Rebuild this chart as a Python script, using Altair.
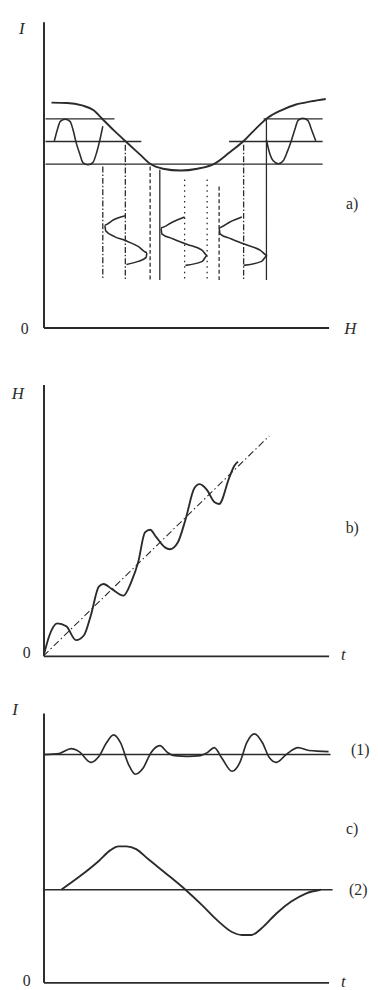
import altair as alt
import pandas as pd

INK = "#2b2b2b"

# ---------------- panel a : I versus H ----------------
a_curve_H = [2.8, 8.3, 13.5, 17.6, 20.4, 24.6, 29.8, 33.9, 37.4, 41.9, 48.1, 54.0, 59.9,
             65.1, 70.6, 74.7, 78.9, 83.4, 88.6, 93.8, 99.0]
a_curve_I = [73.5, 73.4, 72.6, 71.0, 68.4, 64.5, 60.0, 56.5, 53.5, 51.9, 51.3, 51.9, 53.5,
             57.1, 61.3, 65.2, 68.7, 71.0, 72.9, 73.9, 74.7]

a_seg_I = [68.2, 68.2, 60.8, 60.8, 53.4]
a_seg_H0 = [0.7, 77.2, 0.7, 65.1, 0.7]
a_seg_H1 = [24.9, 97.9, 34.3, 97.9, 97.9]

a_vert_H = [20.8, 28.7, 37.4, 40.8, 49.5, 57.4, 61.6, 70.2, 78.2]
a_vert_top = [52.6, 59.7, 52.6, 51.6, 48.4, 48.4, 46.1, 59.7, 68.1]
a_vert_bottom = [15.5, 15.5, 15.5, 15.5, 15.5, 15.5, 15.5, 15.5, 15.5]
a_vert_style = ["dashdot", "dashdot", "dashed", "solid", "dotted", "dotted", "dashed",
                "dashdot", "solid"]

# input modulation drawn as I(t) to the left and right
a_left_H = [3.8, 4.8, 5.9, 7.6, 9.3, 10.4, 11.4, 12.8, 13.8, 15.6, 17.3, 18.7, 19.7, 20.8]
a_left_I = [61.0, 64.5, 67.4, 68.1, 67.4, 64.5, 60.6, 56.5, 53.9, 53.2, 53.9, 57.4, 61.0, 65.8]
a_right_H = [78.2, 79.2, 80.6, 82.4, 84.1, 85.5, 86.9, 88.2, 89.3, 91.0, 92.7, 94.1, 95.5]
a_right_I = [61.3, 57.4, 54.5, 53.5, 54.5, 57.4, 61.0, 64.8, 67.7, 68.4, 67.7, 64.5, 61.0]

# field modulation H(t) drawn downwards
a_w1_H = [28.7, 24.6, 21.5, 21.8, 24.9, 28.7, 33.2, 36.3, 36.0, 33.2, 29.1]
a_w1_I = [36.5, 35.2, 33.5, 31.6, 29.7, 28.4, 26.5, 24.5, 22.9, 21.6, 20.6]
a_w2_H = [49.5, 45.3, 41.2, 41.5, 45.3, 50.5, 55.7, 57.4, 55.7, 49.8]
a_w2_I = [36.1, 34.5, 32.6, 30.6, 29.0, 27.1, 25.2, 23.5, 21.6, 20.3]
a_w3_H = [69.6, 65.4, 61.6, 61.9, 65.7, 70.9, 76.1, 78.5, 76.5, 70.2]
a_w3_I = [36.1, 34.5, 32.6, 30.6, 29.0, 27.1, 25.2, 23.5, 21.6, 20.3]

a_lab_text = ["I", "0", "H", "a)"]
a_lab_x = [-7.6, -6.6, 107.6, 108.3]
a_lab_y = [97.7, -0.6, -0.6, 40.3]
a_lab_italic = [True, False, True, False]

# ---------------- panel b : H versus t ----------------
b_mean_t = [0.0, 79.2]
b_mean_H = [0.0, 81.1]
b_curve_t = [0.3, 2.1, 4.8, 8.0, 11.4, 14.2, 16.6, 19.4, 21.1, 23.9, 28.0, 30.8, 33.2, 35.6,
             37.4, 39.4, 42.6, 44.3, 47.1, 49.8, 52.9, 54.7, 57.4, 59.9, 61.6, 65.1, 66.8, 68.2]
b_curve_H = [1.1, 7.6, 12.0, 10.9, 5.8, 7.6, 14.9, 25.5, 26.5, 24.7, 22.2, 27.3, 34.5, 45.5,
             46.5, 44.0, 40.0, 39.3, 41.8, 50.2, 61.8, 63.3, 61.1, 56.7, 56.0, 65.5, 69.8, 71.6]
b_lab_text = ["H", "0", "t", "b)"]
b_lab_x = [-9.0, -5.9, 105.2, 108.3]
b_lab_y = [96.7, 1.1, 0.4, 47.3]
b_lab_italic = [True, False, True, False]

# ---------------- panel c : I versus t ----------------
c_base_I = [84.6, 34.4]
c_base_t0 = [0.0, 0.0]
c_base_t1 = [100.7, 101.4]
c_w1_t = [0.3, 5.5, 9.7, 12.5, 16.6, 19.4, 22.1, 24.6, 27.0, 29.8, 32.2, 34.9, 37.7, 40.8, 43.6,
          46.0, 50.5, 55.0, 57.4, 59.9, 62.6, 66.1, 68.9, 71.3, 74.0, 76.8, 79.2, 81.7, 85.1,
          89.3, 93.1, 100.0]
c_w1_I = [84.6, 85.0, 86.8, 85.7, 81.7, 83.9, 89.0, 91.9, 89.0, 81.0, 77.3, 79.5, 85.3, 87.9,
          85.3, 84.2, 83.9, 84.2, 85.3, 87.2, 83.2, 78.4, 81.7, 89.0, 92.3, 89.0, 83.5, 81.7,
          84.6, 87.2, 86.1, 85.7]
c_w2_t = [6.2, 12.5, 19.4, 23.5, 26.3, 29.1, 32.5, 36.7, 43.6, 49.8, 55.7, 60.9, 66.1, 69.6,
          73.0, 76.5, 81.7, 86.9, 92.0, 97.2]
c_w2_I = [34.4, 39.2, 45.1, 49.1, 50.5, 50.5, 49.5, 45.8, 39.9, 34.4, 28.6, 23.1, 18.7, 17.6,
          17.6, 20.1, 25.6, 30.0, 33.0, 34.4]
c_lab_text = ["I", "0", "t", "(1)", "c)", "(2)"]
c_lab_x = [-10.0, -5.9, 105.2, 111.1, 108.3, 110.4]
c_lab_y = [101.1, 0.4, 0.0, 86.1, 57.1, 34.1]
c_lab_italic = [True, False, True, False, False, False]

W = 289
DASHES = {"solid": [1, 0], "dashdot": [6, 2, 1.5, 2], "dashed": [4, 2.5], "dotted": [1.5, 4]}


def ax():
    return alt.Axis(domain=True, domainColor=INK, domainWidth=2, ticks=False, labels=False,
                    grid=False, title=None)


def sx():
    return alt.Scale(domain=[0, 100], nice=False, zero=False)


def X(f="x"):
    return alt.X(f"{f}:Q", scale=sx(), axis=ax())


def Y(f="y"):
    return alt.Y(f"{f}:Q", scale=sx(), axis=ax())


def curves(series, width=1.7, dash=None):
    rows = []
    for name, xs, ys in series:
        for k, (x, y) in enumerate(zip(xs, ys)):
            rows.append({"s": name, "k": k, "x": x, "y": y})
    kw = {"color": INK, "strokeWidth": width, "interpolate": "monotone"}
    if dash:
        kw["strokeDash"] = dash
    return alt.Chart(pd.DataFrame(rows)).mark_line(**kw).encode(
        x=X(), y=Y(), detail="s:N", order="k:Q")


def labels(texts, xs, ys, italic):
    df = pd.DataFrame({"t": texts, "x": xs, "y": ys, "it": italic})
    it = alt.Chart(df[df.it]).mark_text(font="Liberation Serif", fontStyle="italic",
                                       fontSize=17, color=INK).encode(x=X(), y=Y(), text="t:N")
    rg = alt.Chart(df[~df.it]).mark_text(font="Liberation Serif", fontSize=16,
                                        color=INK).encode(x=X(), y=Y(), text="t:N")
    return [it, rg]


# panel a layers
segs = alt.Chart(pd.DataFrame({"x": a_seg_H0, "x2": a_seg_H1, "y": a_seg_I})).mark_rule(
    color=INK, strokeWidth=1.4).encode(x=X(), x2="x2:Q", y=Y())
verts = alt.Chart(pd.DataFrame({"x": a_vert_H, "y": a_vert_top, "y2": a_vert_bottom,
                                "st": a_vert_style})).mark_rule(
    color=INK, strokeWidth=1.3).encode(
    x=X(), y=Y(), y2="y2:Q",
    strokeDash=alt.StrokeDash("st:N", scale=alt.Scale(domain=list(DASHES),
                                                      range=list(DASHES.values())),
                              legend=None))
pa = alt.layer(
    segs, verts,
    curves([("cos", a_curve_H, a_curve_I)], 1.9),
    curves([("l", a_left_H, a_left_I), ("r", a_right_H, a_right_I)], 1.6),
    curves([("w1", a_w1_H, a_w1_I), ("w2", a_w2_H, a_w2_I), ("w3", a_w3_H, a_w3_I)], 1.6),
    *labels(a_lab_text, a_lab_x, a_lab_y, a_lab_italic),
).properties(width=W, height=310)

pb = alt.layer(
    curves([("m", b_mean_t, b_mean_H)], 1.1, dash=[7, 3, 1.5, 3]),
    curves([("c", b_curve_t, b_curve_H)], 1.9),
    *labels(b_lab_text, b_lab_x, b_lab_y, b_lab_italic),
).properties(width=W, height=275)

base = alt.Chart(pd.DataFrame({"x": c_base_t0, "x2": c_base_t1, "y": c_base_I})).mark_rule(
    color=INK, strokeWidth=1.4).encode(x=X(), x2="x2:Q", y=Y())
pc = alt.layer(
    base,
    curves([("w1", c_w1_t, c_w1_I)], 1.7),
    curves([("w2", c_w2_t, c_w2_I)], 1.9),
    *labels(c_lab_text, c_lab_x, c_lab_y, c_lab_italic),
).properties(width=W, height=273)

chart = alt.vconcat(alt.vconcat(pa, pb, spacing=48), pc, spacing=38).properties(
    padding={"left": 3, "top": 5, "right": 0, "bottom": 0},
    background="white",
).configure_view(stroke=None)

chart.save("out.html", embed_options={"renderer": "svg", "actions": False})
